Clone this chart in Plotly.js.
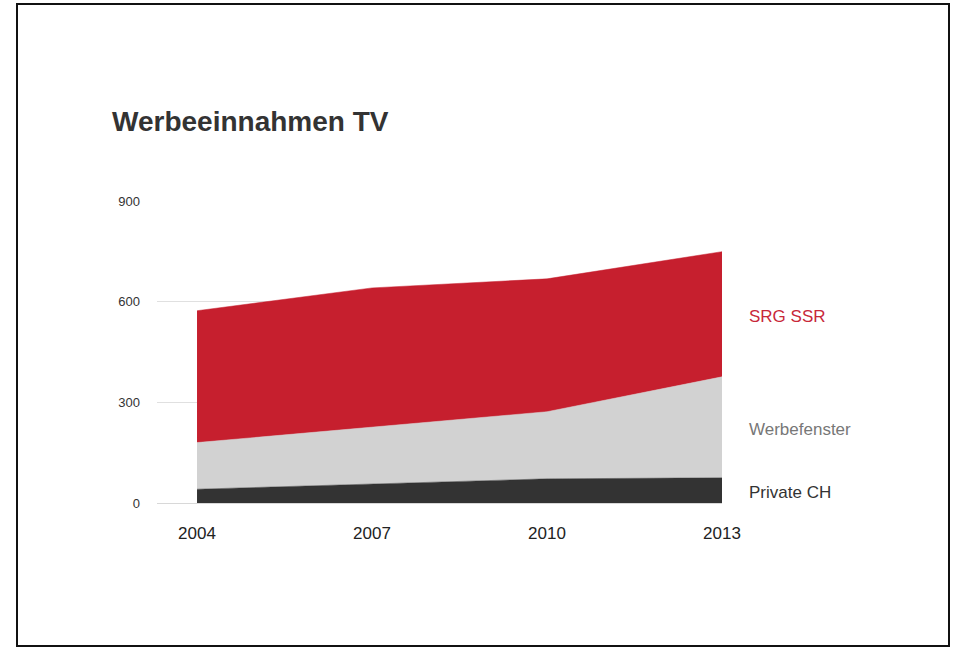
<!DOCTYPE html>
<html>
<head>
<meta charset="utf-8">
<script src="https://cdn.plot.ly/plotly-3.0.1.min.js"></script>
<style>
  html, body { margin: 0; padding: 0; background: #ffffff; }
  #chart { position: absolute; left: 0; top: 0; width: 955px; height: 649px; }
  #frame { position: absolute; left: 16px; top: 3px; width: 934px; height: 644px;
           box-sizing: border-box; border: 2px solid #111; pointer-events: none; }
</style>
</head>
<body>
<div id="chart"></div>
<div id="frame"></div>
<script>
const years = [2004, 2007, 2010, 2013];
const tickYears = [2004, 2007, 2010, 2013];
const privateCH = [41, 57, 72, 75];
const werbefenster = [139, 170, 200, 301];
const srgSSR = [393, 414, 396, 373];
const seriesNames = ['Private CH', 'Werbefenster', 'SRG SSR'];
const fillColors = ['#333333', '#d2d2d2', '#c61f2e'];
const labelColors = ['#333333', '#777777', '#c8283a'];
const yTicks = [0, 300, 600, 900];

const seriesValues = [privateCH, werbefenster, srgSSR];
const traces = seriesValues.map((vals, i) => ({
  x: years, y: vals, name: seriesNames[i], type: 'scatter', mode: 'lines',
  stackgroup: 'one', line: { width: 0.5, color: fillColors[i] },
  fillcolor: fillColors[i], hoverinfo: 'x+y+name'
}));

// label positions: middle of each band at the last year
const lastIdx = years.length - 1;
let base = 0;
const annotations = seriesValues.map((vals, i) => {
  const v = vals[lastIdx];
  const mid = base + v / 2;
  base += v;
  return {
    xref: 'paper', yref: 'y', x: 1, y: mid, xshift: 25, yshift: -2,
    xanchor: 'left', yanchor: 'middle', showarrow: false,
    text: seriesNames[i],
    font: { family: 'Liberation Sans, Arial, sans-serif', size: 17, color: labelColors[i] }
  };
});

const layout = {
  width: 955, height: 649,
  margin: { l: 157, r: 233, t: 201, b: 146 },
  paper_bgcolor: '#ffffff', plot_bgcolor: '#ffffff',
  showlegend: false,
  title: {
    text: '<b>Werbeeinnahmen TV</b>',
    xref: 'container', yref: 'container', x: 112 / 955, xanchor: 'left',
    y: 1 - 121 / 649, yanchor: 'middle',
    font: { family: 'Liberation Sans, Arial, sans-serif', size: 28, color: '#333333' }
  },
  xaxis: {
    range: [2003.314, 2013], tickvals: tickYears, ticktext: tickYears.map(String),
    showgrid: false, zeroline: false, showline: false, ticks: '',
    ticklabelstandoff: 18,
    tickfont: { family: 'Liberation Sans, Arial, sans-serif', size: 17, color: '#222222' }
  },
  yaxis: {
    range: [0, 900], tickvals: yTicks, ticktext: yTicks.map(String),
    showgrid: true, gridcolor: '#e0e0e0', gridwidth: 1,
    zeroline: true, zerolinecolor: '#d8d8d8', zerolinewidth: 1,
    showline: false, ticks: '', ticklabelstandoff: 16,
    tickfont: { family: 'Liberation Sans, Arial, sans-serif', size: 13, color: '#333333' }
  },
  annotations: annotations
};

Plotly.newPlot('chart', traces, layout, { displayModeBar: false, staticPlot: true });
</script>
</body>
</html>
